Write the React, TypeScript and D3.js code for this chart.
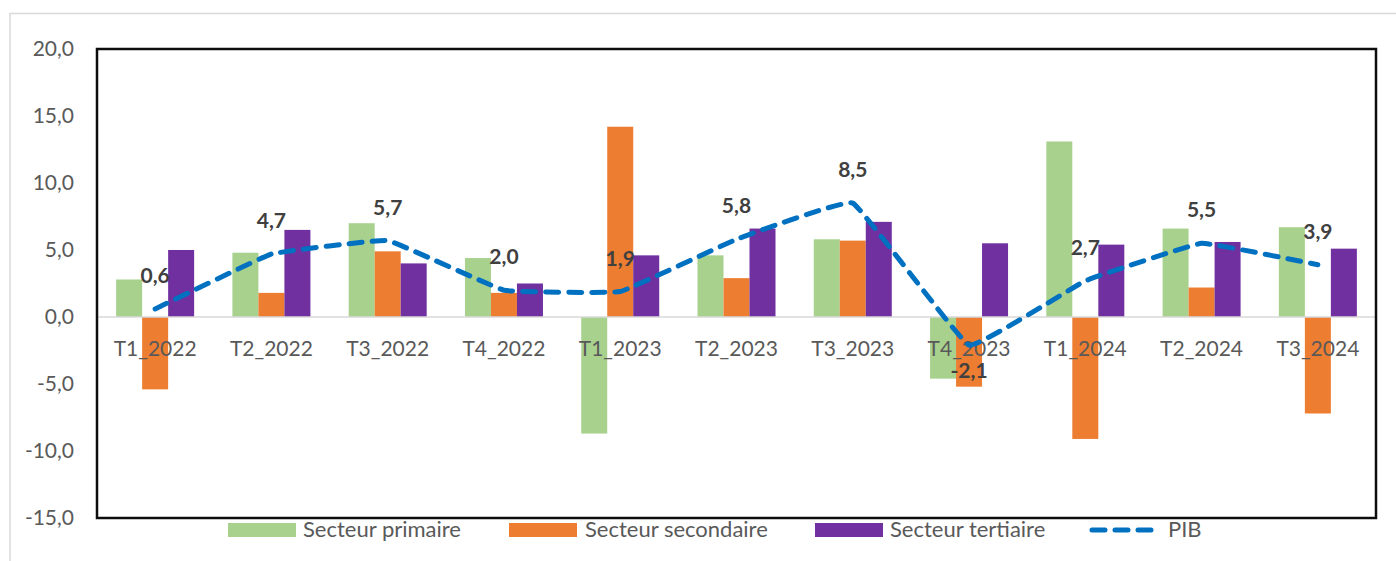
import React from "react";
import * as d3 from "d3";

const categories = ["T1_2022","T2_2022","T3_2022","T4_2022","T1_2023","T2_2023","T3_2023","T4_2023","T1_2024","T2_2024","T3_2024"];
const primaire = [2.8, 4.8, 7.0, 4.4, -8.7, 4.6, 5.8, -4.6, 13.1, 6.6, 6.7];
const secondaire = [-5.4, 1.8, 4.9, 1.8, 14.2, 2.9, 5.7, -5.2, -9.1, 2.2, -7.2];
const tertiaire = [5.0, 6.5, 4.0, 2.5, 4.6, 6.6, 7.1, 5.5, 5.4, 5.6, 5.1];
const pib = [0.6, 4.7, 5.7, 2.0, 1.9, 5.8, 8.5, -2.1, 2.7, 5.5, 3.9];
const yTicks = [20, 15, 10, 5, 0, -5, -10, -15];
const seriesNames = ["Secteur primaire", "Secteur secondaire", "Secteur tertiaire", "PIB"];
const colors = ["#A9D18E", "#ED7D31", "#7030A0", "#0070C0"];

const fmt = (v: number) => v.toFixed(1).replace(".", ",");
const FONT = "Lato, 'Open Sans', sans-serif";

export default function App() {
  const W = 1396, H = 561;
  const left = 97, right = 1376, top = 49, bottom = 518;
  const x = d3.scaleBand<string>().domain(categories).range([left, right]).paddingInner(0).paddingOuter(0);
  const y = d3.scaleLinear().domain([-15, 20]).range([bottom, top]);
  const groupW = 78;
  const inner = d3.scaleBand<number>().domain([0, 1, 2]).range([0, groupW]);
  const barSeries = [primaire, secondaire, tertiaire];
  const cx = (c: string) => (x(c) as number) + x.bandwidth() / 2;
  const line = d3.line<number>()
    .x((_, i) => cx(categories[i]))
    .y((d) => y(d))
    .curve(d3.curveCardinal.tension(0.78));

  const legendItems = [
    { x: 228, tx: 303 },
    { x: 509, tx: 585 },
    { x: 815, tx: 890 },
    { x: 1090, tx: 1168 },
  ];

  return (
    <svg width={W} height={H} style={{ position: "absolute", left: 0, top: 0, background: "#fff" }}>
      <rect x={10} y={13.5} width={W + 10} height={H} fill="#fff" stroke="#D9D9D9" strokeWidth={1.5} />
      {yTicks.map((t) => (
        <text key={t} x={74} y={y(t)} dy="0.35em" textAnchor="end" fontFamily={FONT} fontSize={21} fill="#595959">
          {fmt(t)}
        </text>
      ))}
      {barSeries.map((s, si) =>
        s.map((v, i) => {
          const bx = cx(categories[i]) - groupW / 2 + (inner(si) as number);
          return (
            <rect key={`${si}-${i}`} x={bx} width={inner.bandwidth()} y={Math.min(y(v), y(0))} height={Math.abs(y(v) - y(0))} fill={colors[si]} />
          );
        })
      )}
      <line x1={left} x2={right} y1={y(0)} y2={y(0)} stroke="#D9D9D9" strokeWidth={1.5} />
      {categories.map((c) => (
        <text key={c} x={cx(c)} y={356} textAnchor="middle" fontFamily={FONT} fontSize={21} fill="#595959">
          {c}
        </text>
      ))}
      <path d={line(pib) || ""} fill="none" stroke={colors[3]} strokeWidth={5} strokeDasharray="13 10" strokeLinecap="round" />
      {pib.map((v, i) => (
        <text key={i} x={cx(categories[i])} y={v < 0 ? y(v) + 33 : y(v) - 26} textAnchor="middle" fontFamily={FONT} fontWeight="bold" fontSize={21} fill="#404040">
          {fmt(v)}
        </text>
      ))}
      <rect x={left} y={top} width={right - left} height={bottom - top} fill="none" stroke="#0D0D0D" strokeWidth={2.5} />
      {seriesNames.map((n, i) => (
        <g key={n}>
          {i < 3 ? (
            <rect x={legendItems[i].x} y={523} width={68} height={14} fill={colors[i]} />
          ) : (
            <line x1={legendItems[i].x + 2} x2={legendItems[i].x + 64} y1={530} y2={530} stroke={colors[3]} strokeWidth={5} strokeDasharray="13 10" strokeLinecap="round" />
          )}
          <text x={legendItems[i].tx} y={537} fontFamily={FONT} fontSize={22} fill="#595959">{n}</text>
        </g>
      ))}
    </svg>
  );
}
